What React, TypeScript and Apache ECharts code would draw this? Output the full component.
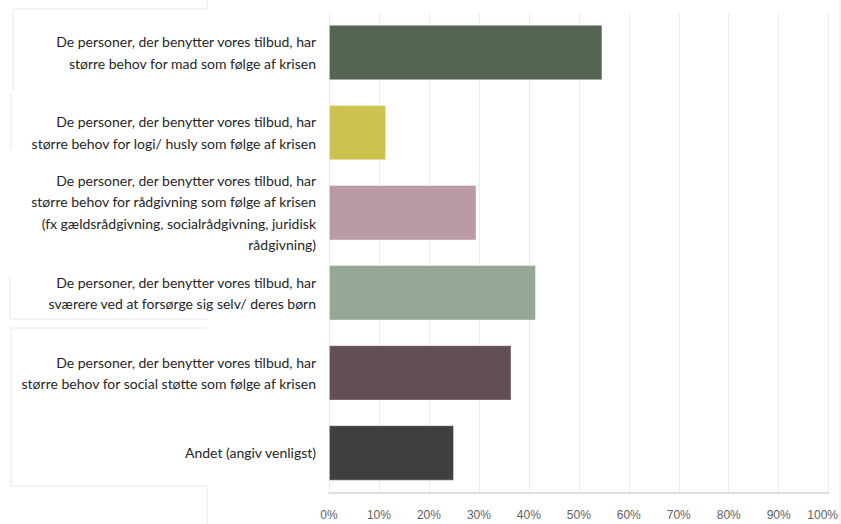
import React, { useEffect, useRef } from "react";
import * as echarts from "echarts";

const categories = [
  "De personer, der benytter vores tilbud, har\nstørre behov for mad som følge af krisen",
  "De personer, der benytter vores tilbud, har\nstørre behov for logi/ husly som følge af krisen",
  "De personer, der benytter vores tilbud, har\nstørre behov for rådgivning som følge af krisen\n(fx gældsrådgivning, socialrådgivning, juridisk\nrådgivning)",
  "De personer, der benytter vores tilbud, har\nsværere ved at forsørge sig selv/ deres børn",
  "De personer, der benytter vores tilbud, har\nstørre behov for social støtte som følge af krisen",
  "Andet (angiv venligst)",
];
const values = [54.7, 11.4, 29.5, 41.4, 36.5, 25.0];
const barColors = ["#566454", "#cbc250", "#ba9aa6", "#95a796", "#634e56", "#3f3f3f"];

const frameLines: number[][] = [
  [13, 9, 207, 9],
  [207, 0, 207, 9],
  [13, 9, 13, 90],
  [11, 93, 11, 150],
  [10, 277, 10, 319],
  [10, 319, 207, 319],
  [11, 328, 207, 328],
  [11, 328, 11, 486],
  [11, 486, 207, 486],
  [207, 486, 207, 524],
  [840, 0, 840, 524],
];

export default function App() {
  const ref = useRef<HTMLDivElement>(null);
  useEffect(() => {
    if (!ref.current) return;
    const chart = echarts.init(ref.current, null, { renderer: "svg" });
    chart.setOption({
      animation: false,
      backgroundColor: "#ffffff",
      grid: { left: 329, right: 12, top: 12.5, bottom: 31, containLabel: false },
      xAxis: {
        type: "value",
        min: 0,
        max: 100,
        interval: 10,
        axisLine: { show: true, lineStyle: { color: "#d4d4d4", width: 1.5 } },
        axisTick: { show: false },
        splitLine: { show: true, lineStyle: { color: "#ececec", width: 1 } },
        axisLabel: {
          margin: 16,
          color: "#5f5f5f",
          fontFamily: "Liberation Sans",
          fontSize: 12,
          formatter: (v: number) => (v === 100 ? "{m|100%}" : v + "%"),
          rich: { m: { padding: [0, 12, 0, 0], color: "#5f5f5f", fontFamily: "Liberation Sans", fontSize: 12 } },
        },
      },
      yAxis: {
        type: "category",
        data: categories,
        inverse: true,
        axisLine: { show: false },
        axisTick: { show: false },
        splitLine: { show: false },
        axisLabel: {
          margin: 13,
          color: "#262626",
          fontFamily: "Lato",
          fontSize: 14,
          lineHeight: 21.5,
          align: "right",
        },
      },
      series: [
        {
          type: "bar",
          data: values.map((v, i) => ({ value: v, itemStyle: { color: barColors[i] } })),
          barWidth: "69%",
          itemStyle: { borderColor: "rgba(255,255,255,0.5)", borderWidth: 0.8 },
        },
      ],
      graphic: frameLines.map((l) => ({
        type: "line",
        shape: { x1: l[0], y1: l[1], x2: l[2], y2: l[3] },
        style: { stroke: "#e6e6e6", lineWidth: 1 },
        silent: true,
      })),
    });
    return () => chart.dispose();
  }, []);
  return <div ref={ref} style={{ width: 841, height: 524, position: "absolute", left: 0, top: 0 }} />;
}
